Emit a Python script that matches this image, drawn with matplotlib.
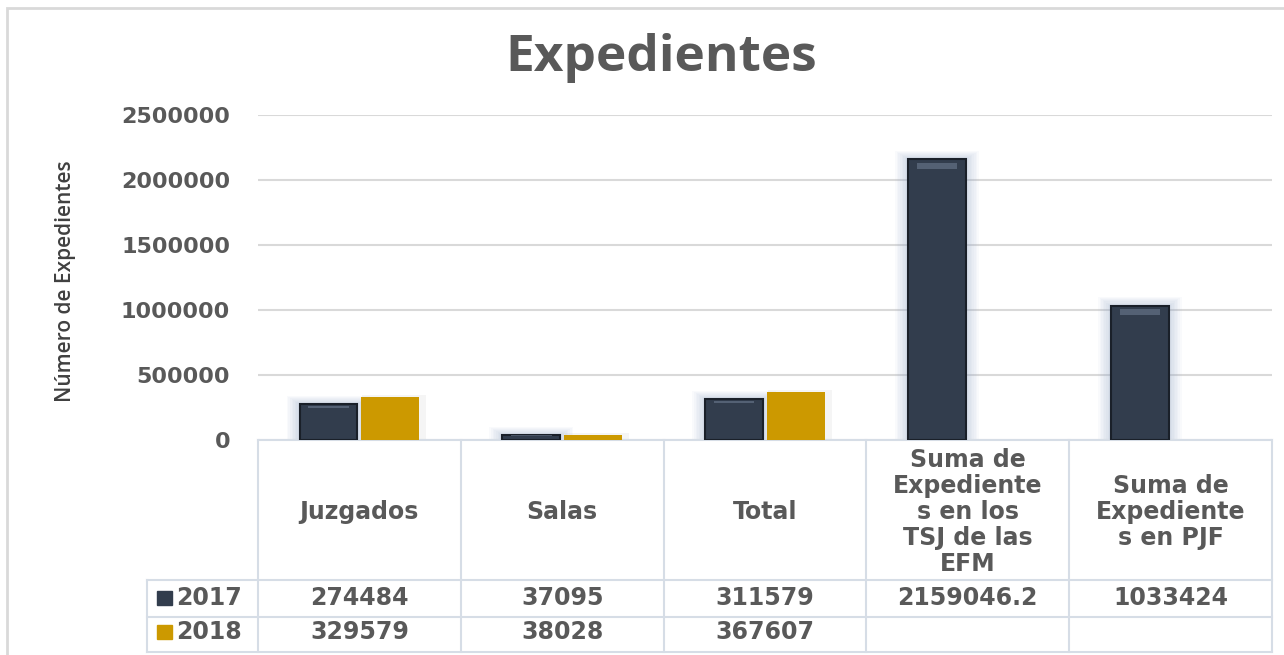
import numpy as np
import matplotlib
matplotlib.use('Agg')
import matplotlib.pyplot as plt
from matplotlib.patches import Rectangle
import matplotlib.transforms as mtrans

categories = ['Juzgados', 'Salas', 'Total',
              'Suma de\nExpediente\ns en los\nTSJ de las\nEFM',
              'Suma de\nExpediente\ns en PJF']
series_names = ['2017', '2018']
vals_2017 = [274484, 37095, 311579, 2159046.2, 1033424]
vals_2018 = [329579, 38028, 367607, None, None]
labels_2017 = ['274484', '37095', '311579', '2159046.2', '1033424']
labels_2018 = ['329579', '38028', '367607', '', '']
yticks = [0, 500000, 1000000, 1500000, 2000000, 2500000]

c17 = '#323d4d'
c18 = '#cc9900'
txt = '#595959'
grid_c = '#d9d9d9'
tab_c = '#d6dde6'

W, H = 1284, 655
fig = plt.figure(figsize=(W / 100, H / 100), dpi=100)
fig.patch.set_facecolor('white')

# outer chart frame
fig.patches.append(Rectangle((7 / W, -0.05), 1.1, 1 - 8 / H + 0.05, transform=fig.transFigure,
                             fill=False, edgecolor='#d9d9d9', lw=2))

ax = fig.add_axes([258 / W, 215 / H, 1014 / W, 325 / H])
x = np.arange(len(categories))
bw = 0.285
off = 0.152

v17 = np.array(vals_2017, dtype=float)
has18 = np.array([v is not None for v in vals_2018])
x18 = x[has18]
v18 = np.array([v for v in vals_2018 if v is not None], dtype=float)

# soft glow behind the 2017 bars
for k in range(1, 9):
    ext = k * 0.008
    ax.bar(x - off, v17 + k * 8000, bw + 2 * ext, color='#8fa6c8', alpha=0.05, lw=0, zorder=2)
# light shadow next to the 2018 bars
ax.bar(x18 + off + 0.02, v18 + 15000, bw + 0.03, color='#bfbfbf', alpha=0.15, lw=0, zorder=2)
ax.bar(x - off, v17, bw, color=c17, lw=0, zorder=3)
# darker edges / lighter top highlight for the bevelled look
ax.bar(x - off, v17, bw, fill=False, edgecolor='#1a2029', lw=1.5, zorder=4)
hl = np.minimum(v17 * 0.06, 45000)
ax.bar(x - off, hl, bw * 0.7, bottom=v17 - hl * 1.6,
       color='#6b7a8f', alpha=0.6, lw=0, zorder=4)
ax.bar(x18 + off, v18, bw, color=c18, lw=0, zorder=3)

ax.set_xlim(-0.5, len(categories) - 0.5)
ax.set_ylim(0, 2500000)
ax.set_yticks(yticks)
ax.set_yticklabels([str(t) for t in yticks], fontsize=16, fontweight='bold',
                   color=txt, family='DejaVu Sans')
ax.tick_params(axis='y', length=0, pad=20)
ax.set_xticks([])
ax.grid(axis='y', color=grid_c, lw=1.5, zorder=0)
ax.set_axisbelow(True)
for s in ax.spines.values():
    s.set_visible(False)

ax.set_ylabel('Número de Expedientes', fontsize=15, color='#404040',
              family='Open Sans', fontweight='semibold')
ax.yaxis.set_label_coords(-0.1795, 0.49)

fig.text(661 / W, 1 - 58 / H, 'Expedientes', ha='center', va='center',
         fontsize=37, fontweight='bold', color=txt, family='Open Sans')


# data table under the plot
def yf(py):
    return (440 - py) / 325


bt = mtrans.blended_transform_factory(ax.transData, ax.transAxes)
lx = (147 - 258) / 1014
ax.plot([0, 1], [yf(440)] * 2, color=tab_c, lw=1.5, transform=ax.transAxes, clip_on=False)
for py in [580, 617, 652]:
    ax.plot([lx, 1], [yf(py)] * 2, color=tab_c, lw=1.5, transform=ax.transAxes, clip_on=False)
for b in np.arange(len(categories) + 1) - 0.5:
    ax.plot([b, b], [0, yf(652)], color=tab_c, lw=1.5, transform=bt, clip_on=False)
ax.plot([lx, lx], [yf(580), yf(652)], color=tab_c, lw=1.5, transform=ax.transAxes, clip_on=False)

tkw = dict(ha='center', va='center', fontsize=17, fontweight='bold', color=txt,
           family='DejaVu Sans', transform=bt, clip_on=False)
for i, c in enumerate(categories):
    ax.text(i, yf(512), c, linespacing=1.1, **tkw)
    ax.text(i, yf(598), labels_2017[i], **tkw)
    ax.text(i, yf(632), labels_2018[i], **tkw)

# legend keys in the table
for py, col, name in [(598, c17, series_names[0]), (632, c18, series_names[1])]:
    fig.patches.append(Rectangle((157 / W, 1 - (py + 7) / H), 15 / W, 14 / H,
                                 transform=fig.transFigure, color=col))
    fig.text(176 / W, 1 - py / H, name, ha='left', va='center', fontsize=17,
             fontweight='bold', color=txt, family='DejaVu Sans')

fig.savefig('out.png', dpi=100)
